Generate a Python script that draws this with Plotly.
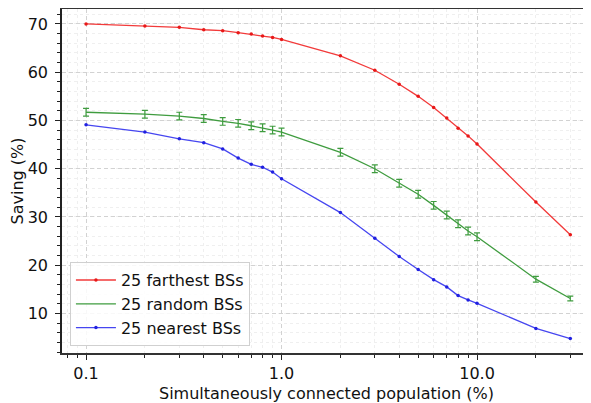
import plotly.graph_objects as go

# --------------------------------------------------
# Data
# --------------------------------------------------
population = [0.1, 0.2, 0.3, 0.4, 0.5, 0.6, 0.7, 0.8, 0.9, 1.0,
              2, 3, 4, 5, 6, 7, 8, 9, 10, 20, 30]

farthest = [70.0, 69.6, 69.3, 68.8, 68.6, 68.2, 67.9, 67.5, 67.2, 66.8,
            63.4, 60.4, 57.5, 55.0, 52.7, 50.5, 48.4, 46.8, 45.1, 33.1, 26.3]

random_ = [51.7, 51.3, 50.9, 50.4, 49.8, 49.4, 48.9, 48.5, 48.0, 47.6,
           43.4, 40.0, 37.0, 34.7, 32.4, 30.4, 28.6, 27.1, 25.9, 17.1, 13.1]

random_err = [0.8, 0.8, 0.8, 0.8, 0.8, 0.8, 0.8, 0.8, 0.8, 0.8,
              0.8, 0.8, 0.8, 0.8, 0.8, 0.8, 0.8, 0.8, 0.8, 0.6, 0.5]

nearest = [49.1, 47.6, 46.2, 45.4, 44.1, 42.2, 40.9, 40.3, 39.3, 37.9,
           30.9, 25.6, 21.8, 19.1, 17.0, 15.5, 13.7, 12.8, 12.1, 6.9, 4.8]

x_ticks = [0.1, 1.0, 10.0]
x_ticktext = ['0.1', '1.0', '10.0']
x_minor = [0.08, 0.09] + [m * d for d in (0.1, 1, 10) for m in range(2, 10)]
y_ticks = [10, 20, 30, 40, 50, 60, 70]

font = 'DejaVu Sans'

fig = go.Figure()

fig.add_trace(go.Scatter(
    x=population, y=farthest, mode='lines+markers', name='25 farthest BSs',
    line=dict(color='#f23a3a', width=1.3),
    marker=dict(size=3.5, color='#e81818')
))

fig.add_trace(go.Scatter(
    x=population, y=random_, mode='lines', name='25 random BSs',
    line=dict(color='#3f9c3f', width=1.3),
    error_y=dict(type='data', array=random_err, color='#3f9c3f',
                 thickness=1.2, width=3)
))

fig.add_trace(go.Scatter(
    x=population, y=nearest, mode='lines+markers', name='25 nearest BSs',
    line=dict(color='#4646f0', width=1.3),
    marker=dict(size=3.5, color='#2020e0')
))

# the page body keeps its default 8px margin, so the figure is sized to fit
fig.update_layout(
    width=583,
    height=395,
    margin=dict(l=54, r=0, t=1, b=50),
    paper_bgcolor='white',
    plot_bgcolor='white',
    font=dict(family=font, size=16, color='#111111'),
    showlegend=True,
    legend=dict(
        x=0.015, y=0.02, xanchor='left', yanchor='bottom',
        bgcolor='rgba(255,255,255,0.85)',
        bordercolor='#d0d0d0', borderwidth=1,
        font=dict(family=font, size=16),
        itemwidth=40,
        tracegroupgap=0
    ),
    annotations=[dict(
        text='Simultaneously connected population (%)',
        x=0.5, y=0, xref='paper', yref='paper',
        xanchor='center', yanchor='top', yshift=-29,
        showarrow=False, font=dict(family=font, size=16)
    )]
)

fig.update_xaxes(
    type='log',
    range=[-1.123, 1.583],
    automargin=False,
    tickmode='array', tickvals=x_ticks, ticktext=x_ticktext,
    ticks='outside', ticklen=5, tickwidth=1.2, tickcolor='#222',
    showline=True, linecolor='#333', linewidth=1.8, mirror=True,
    showgrid=True, gridcolor='#d2d2d2', griddash='4px,3px', gridwidth=1,
    zeroline=False,
    minor=dict(tickvals=x_minor, ticks='outside', ticklen=3,
               tickcolor='#222', showgrid=True, gridcolor='#efefef',
               griddash='dot')
)

fig.update_yaxes(
    range=[1.8, 73.1],
    automargin=False,
    tickmode='array', tickvals=y_ticks,
    ticks='outside', ticklen=5, tickwidth=1.2, tickcolor='#222',
    ticklabelstandoff=4,
    showline=True, linecolor='#222', linewidth=1.6,
    showgrid=True, gridcolor='#d2d2d2', griddash='4px,3px', gridwidth=1,
    zeroline=False,
    minor=dict(dtick=2, tick0=0, ticks='outside', ticklen=3,
               tickcolor='#222', showgrid=True, gridcolor='#efefef',
               griddash='dot'),
    title=dict(text='Saving (%)', font=dict(size=16), standoff=6)
)

fig.write_html('out.html')
